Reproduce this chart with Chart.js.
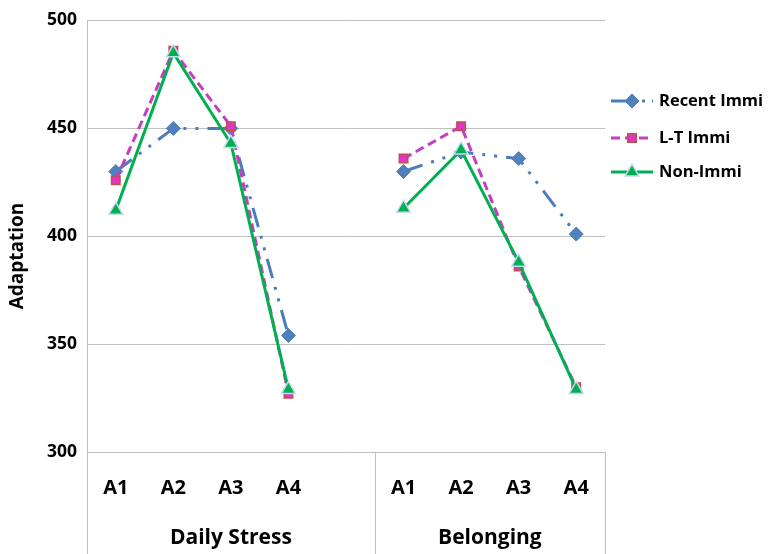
<!DOCTYPE html>
<html>
<head>
    <script src="https://cdn.jsdelivr.net/npm/chart.js"></script>
    <style>
        body { margin: 0; background: #fff; }
        #wrap { width: 768px; height: 554px; }
    </style>
</head>
<body>
    <div id="wrap"><canvas id="adaptChart" width="768" height="554"></canvas></div>

    <script>
        // categories (slot 5 is the empty spacer between the two groups)
        const categories = ['A1', 'A2', 'A3', 'A4', '', 'A1', 'A2', 'A3', 'A4'];
        const groups = ['Daily Stress', 'Belonging'];
        const groupSizes = [5, 4];

        const recentImmi = [430, 450, 450, 354, null, 430, 439, 436, 401];
        const ltImmi     = [426, 486, 451, 327, null, 436, 451, 386, 330];
        const nonImmi    = [412, 485, 443, 329, null, 413, 440, 388, 329];

        const yTicks = [300, 350, 400, 450, 500];
        const yTitle = 'Adaptation';
    </script>
    <script>
        const FONT = '"Open Sans", sans-serif';

        const groupAxis = {
            id: 'groupAxis',
            afterDraw(chart) {
                const ctx = chart.ctx;
                const x = chart.scales.x;
                const area = chart.chartArea;
                const h = chart.height;
                const half = (x.getPixelForValue(1) - x.getPixelForValue(0)) / 2;

                ctx.save();
                ctx.strokeStyle = '#BFBFBF';
                ctx.lineWidth = 1;
                // boundaries of groups
                let start = 0;
                const bounds = [x.left];
                groupSizes.forEach(n => {
                    start += n;
                    bounds.push(x.getPixelForValue(start - 1) + half);
                });
                bounds.forEach((bx, i) => {
                    const top = i === 0 ? area.top : area.bottom;
                    ctx.beginPath();
                    ctx.moveTo(Math.round(bx) + 0.5, top);
                    ctx.lineTo(Math.round(bx) + 0.5, h);
                    ctx.stroke();
                });

                ctx.fillStyle = '#000';
                ctx.font = 'bold 21px ' + FONT;
                ctx.textAlign = 'center';
                ctx.textBaseline = 'middle';
                groups.forEach((g, i) => {
                    ctx.fillText(g, (bounds[i] + bounds[i + 1]) / 2, 538);
                });

                // y title (sits a bit below the axis middle, like the original)
                ctx.save();
                ctx.translate(18, 256);
                ctx.rotate(-Math.PI / 2);
                ctx.font = 'bold 19px ' + FONT;
                ctx.fillText(yTitle, 0, 0);
                ctx.restore();

                // legend
                const items = chart.data.datasets;
                const rows = [101, 138, 172];
                items.forEach((ds, i) => {
                    const y = rows[i];
                    ctx.save();
                    ctx.strokeStyle = ds.borderColor;
                    ctx.lineWidth = ds.borderWidth;
                    ctx.setLineDash(ds.legendDash || []);
                    ctx.beginPath();
                    ctx.moveTo(611, y);
                    ctx.lineTo(653, y);
                    ctx.stroke();
                    ctx.restore();

                    ctx.save();
                    ctx.fillStyle = ds.pointBackgroundColor;
                    ctx.strokeStyle = ds.pointBorderColor;
                    ctx.lineWidth = ds.pointBorderWidth;
                    Chart.helpers.drawPoint(ctx, {
                        pointStyle: ds.pointStyle,
                        radius: ds.pointRadius,
                        borderWidth: ds.pointBorderWidth
                    }, 632, y);
                    ctx.restore();

                    ctx.fillStyle = '#000';
                    ctx.font = 'bold 16.5px ' + FONT;
                    ctx.textAlign = 'left';
                    ctx.fillText(ds.label, 659, y);
                });
                ctx.restore();
            }
        };

        const adaptChart = new Chart('adaptChart', {
            type: 'line',
            data: {
                labels: categories,
                datasets: [
                    {
                        label: 'Recent Immi',
                        data: recentImmi,
                        order: 3,
                        borderColor: '#4A7EBB',
                        borderWidth: 3,
                        borderDash: [20, 9, 3, 9, 3, 9],
                        legendDash: [24, 7, 3, 7],
                        pointStyle: 'rectRot',
                        pointRadius: 7,
                        pointBackgroundColor: '#4F81BD',
                        pointBorderColor: '#4A7EBB',
                        pointBorderWidth: 1,
                    },
                    {
                        label: 'L-T Immi',
                        data: ltImmi,
                        order: 2,
                        borderColor: '#C63DC0',
                        borderWidth: 3,
                        borderDash: [9, 5],
                        legendDash: [9, 5],
                        pointStyle: 'rect',
                        pointRadius: 6,
                        pointBackgroundColor: '#E035C8',
                        pointBorderColor: '#C0504D',
                        pointBorderWidth: 1.5,
                    },
                    {
                        label: 'Non-Immi',
                        data: nonImmi,
                        order: 1,
                        borderColor: '#00B050',
                        borderWidth: 3,
                        pointStyle: 'triangle',
                        pointRadius: 8,
                        pointBackgroundColor: '#00B050',
                        pointBorderColor: '#C6D9F1',
                        pointBorderWidth: 1.5,
                    },
                ]
            },
            options: {
                responsive: false,
                animation: false,
                spanGaps: false,
                layout: { padding: { top: 17, right: 163, bottom: 0, left: 0 } },
                plugins: {
                    legend: { display: false },
                    tooltip: { enabled: false },
                },
                scales: {
                    x: {
                        offset: true,
                        grid: { display: false, drawTicks: false },
                        border: { display: false },
                        ticks: {
                            color: '#000',
                            font: { family: FONT, size: 20, weight: 'bold' },
                            padding: 24,
                            maxRotation: 0,
                            autoSkip: false,
                        },
                        afterFit(scale) { scale.height = 102; },
                    },
                    y: {
                        min: 300,
                        max: 500,
                        afterBuildTicks(scale) {
                            scale.ticks = yTicks.map(v => ({ value: v }));
                        },
                        grid: { color: '#BFBFBF', lineWidth: 1, drawTicks: false },
                        border: { color: '#BFBFBF', width: 1 },
                        ticks: {
                            color: '#000',
                            font: { family: FONT, size: 17.5, weight: 'bold' },
                            padding: 10,
                        },
                        afterFit(scale) { scale.width = 87; },
                    }
                }
            },
            plugins: [groupAxis]
        });
    </script>
</body>
</html>
